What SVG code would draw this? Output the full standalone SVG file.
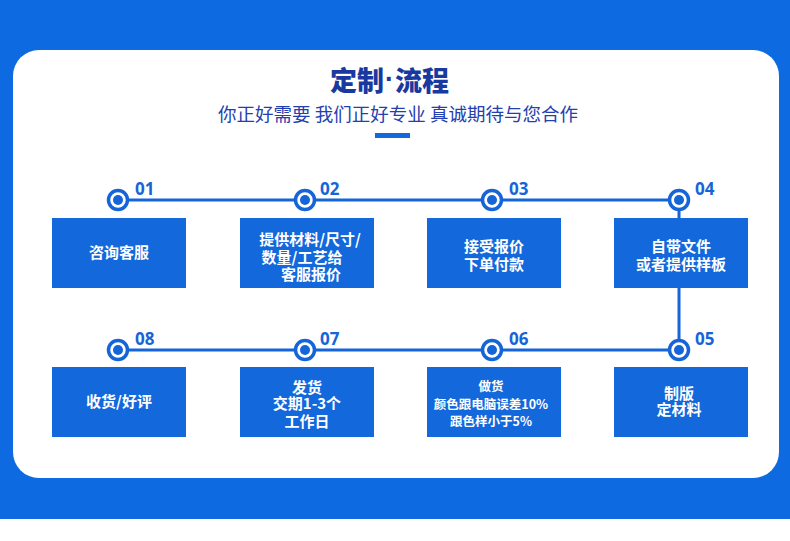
<svg xmlns="http://www.w3.org/2000/svg" width="790" height="541" viewBox="0 0 790 541">
<style>
.box{fill:#1368dc}
.bt{font-family:"Noto Sans CJK SC","Noto Sans",sans-serif;font-weight:700;fill:#fff;font-size:15px;text-anchor:middle}
.sm{font-size:12.5px}
.num{font-family:"Noto Sans","Noto Sans CJK SC",sans-serif;font-weight:700;fill:#1565d8;font-size:17px}
.ring{fill:#fff;stroke:#1565d8;stroke-width:3.5}
.dot{fill:#1565d8}
.ln{stroke:#1565d8;stroke-width:3;fill:none}
.ttl{font-family:"Noto Sans CJK SC",sans-serif;font-weight:900;font-size:27px;fill:#1a39a0}
</style>
<rect x="0" y="0" width="790" height="519" fill="#0d6ae0"/>
<rect x="0" y="519" width="790" height="22" fill="#fff"/>
<rect x="13" y="50" width="766" height="428" rx="26" fill="#fff"/>
<g id="header">
<text class="ttl" x="384" y="91" text-anchor="end">定制</text>
<text x="389.5" y="88" font-family="'Liberation Sans',sans-serif" font-weight="700" font-size="27" fill="#1a39a0" text-anchor="middle">·</text>
<text class="ttl" x="395" y="91">流程</text>
<text x="398" y="121" font-family="'Noto Sans CJK SC',sans-serif" font-size="18.5" fill="#2440b0" text-anchor="middle">你正好需要 我们正好专业 真诚期待与您合作</text>
<rect x="375" y="133" width="35" height="5" fill="#1368dc"/>
</g>
<g id="connectors">
<path class="ln" d="M118 200 H679 V350 H118"/>
</g>
<g id="n01">
<circle class="ring" cx="118" cy="200" r="9.5"/><circle class="dot" cx="118" cy="200" r="5"/>
<text class="num" x="135" y="195">01</text>
<rect class="box" x="52" y="218" width="134" height="70"/>
<text class="bt" x="119" y="258">咨询客服</text>
</g>
<g id="n02">
<circle class="ring" cx="305" cy="200" r="9.5"/><circle class="dot" cx="305" cy="200" r="5"/>
<text class="num" x="320" y="195">02</text>
<rect class="box" x="240" y="218" width="134" height="70"/>
<text class="bt" x="310" y="245">提供材料/尺寸/</text>
<text class="bt" x="302" y="263">数量/工艺给</text>
<text class="bt" x="311" y="280">客服报价</text>
</g>
<g id="n03">
<circle class="ring" cx="492" cy="200" r="9.5"/><circle class="dot" cx="492" cy="200" r="5"/>
<text class="num" x="509" y="195">03</text>
<rect class="box" x="427" y="218" width="134" height="70"/>
<text class="bt" x="494" y="252">接受报价</text>
<text class="bt" x="494" y="270">下单付款</text>
</g>
<g id="n04">
<circle class="ring" cx="679" cy="200" r="9.5"/><circle class="dot" cx="679" cy="200" r="5"/>
<text class="num" x="695" y="195">04</text>
<rect class="box" x="614" y="218" width="134" height="70"/>
<text class="bt" x="681" y="252">自带文件</text>
<text class="bt" x="681" y="270">或者提供样板</text>
</g>
<g id="n05">
<circle class="ring" cx="679" cy="350" r="9.5"/><circle class="dot" cx="679" cy="350" r="5"/>
<text class="num" x="695" y="345">05</text>
<rect class="box" x="614" y="367" width="134" height="70"/>
<text class="bt" x="679" y="399">制版</text>
<text class="bt" x="679" y="415">定材料</text>
</g>
<g id="n06">
<circle class="ring" cx="492" cy="350" r="9.5"/><circle class="dot" cx="492" cy="350" r="5"/>
<text class="num" x="509" y="345">06</text>
<rect class="box" x="427" y="367" width="134" height="70"/>
<text class="bt sm" x="491" y="391">做货</text>
<text class="bt sm" x="491" y="409">颜色跟电脑误差10%</text>
<text class="bt sm" x="491" y="426">跟色样小于5%</text>
</g>
<g id="n07">
<circle class="ring" cx="305" cy="350" r="9.5"/><circle class="dot" cx="305" cy="350" r="5"/>
<text class="num" x="320" y="345">07</text>
<rect class="box" x="240" y="367" width="134" height="70"/>
<text class="bt" x="307" y="393">发货</text>
<text class="bt" x="307" y="409">交期1-3个</text>
<text class="bt" x="307" y="427">工作日</text>
</g>
<g id="n08">
<circle class="ring" cx="118" cy="350" r="9.5"/><circle class="dot" cx="118" cy="350" r="5"/>
<text class="num" x="135" y="345">08</text>
<rect class="box" x="52" y="367" width="134" height="70"/>
<text class="bt" x="119" y="407">收货/好评</text>
</g>
</svg>
